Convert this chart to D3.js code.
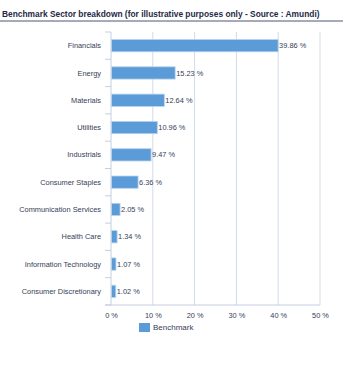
<!DOCTYPE html>
<html>
<head>
<meta charset="utf-8">
<script src="https://cdn.jsdelivr.net/npm/d3@7"></script>
<style>
  body { margin: 0; background: #fff; }
  text { font-family: "Liberation Sans", Arial, sans-serif; }
</style>
</head>
<body>
<div class="bar-chart"></div>
<script>
'use strict'

// Data.
const sectors = ['Financials', 'Energy', 'Materials', 'Utilities', 'Industrials',
    'Consumer Staples', 'Communication Services', 'Health Care',
    'Information Technology', 'Consumer Discretionary'];
const weights = [39.86, 15.23, 12.64, 10.96, 9.47, 6.36, 2.05, 1.34, 1.07, 1.02];
const xTicks = [0, 10, 20, 30, 40, 50];
const seriesName = 'Benchmark';
const title = 'Benchmark Sector breakdown (for illustrative purposes only - Source : Amundi)';

const data = sectors.map((s, i) => ({sector: s, value: weights[i]}));

// Dimensions
let width = 353,
    height = 368,
    margin = {top: 32, right: 33, bottom: 63, left: 111},
    barColor = '#5a9bd8',
    gridColor = '#d3dbe9',
    textColor = '#354057';

let svg = d3.select('.bar-chart')
    .append('svg')
    .attr('width', width)
    .attr('height', height);

// Title + rule under it
svg.append('text')
    .attr('x', 2)
    .attr('y', 17)
    .attr('font-size', 8.4)
    .attr('font-weight', 'bold')
    .attr('fill', '#1f2a44')
    .text(title);

svg.append('line')
    .attr('x1', 0).attr('x2', 343)
    .attr('y1', 21).attr('y2', 21)
    .attr('stroke', '#4a5670')
    .attr('stroke-width', 1);

// Scales
let x = d3.scaleLinear()
    .domain([0, 50])
    .range([margin.left, width - margin.right]);

let y = d3.scaleBand()
    .domain(sectors)
    .range([margin.top, height - margin.bottom])
    .paddingInner(0.55)
    .paddingOuter(0.275);

// Vertical grid
svg.append('g')
    .attr('class', 'grid')
    .selectAll('line')
    .data(xTicks.slice(1))
    .join('line')
    .attr('x1', d => x(d)).attr('x2', d => x(d))
    .attr('y1', margin.top).attr('y2', height - margin.bottom)
    .attr('stroke', gridColor)
    .attr('stroke-width', 1);

// X axis (labels only, line drawn below)
let xAxis = d3.axisBottom(x)
    .tickValues(xTicks)
    .tickSize(0)
    .tickPadding(8)
    .tickFormat(d => d + ' %');

svg.append('g')
    .attr('class', 'xAxis')
    .attr('transform', `translate(0, ${height - margin.bottom})`)
    .call(xAxis)
    .call(g => g.select('.domain').remove())
    .selectAll('text')
    .attr('font-size', 7.4)
    .attr('fill', textColor)
    .style('font-family', '"Liberation Sans", Arial, sans-serif');

// Bottom axis line
svg.append('line')
    .attr('x1', x(0) - 6).attr('x2', x(50))
    .attr('y1', height - margin.bottom).attr('y2', height - margin.bottom)
    .attr('stroke', '#c5cee0');

// Y axis: line + small ticks at band boundaries
let step = y.step();
let boundaries = d3.range(sectors.length + 1).map(i => margin.top + i * step);

svg.append('line')
    .attr('x1', x(0)).attr('x2', x(0))
    .attr('y1', margin.top).attr('y2', height - margin.bottom)
    .attr('stroke', '#c5cee0');

svg.append('g')
    .selectAll('line')
    .data(boundaries)
    .join('line')
    .attr('x1', x(0) - 6).attr('x2', x(0))
    .attr('y1', d => d).attr('y2', d => d)
    .attr('stroke', '#c5cee0');

// Category labels
svg.append('g')
    .selectAll('text')
    .data(data)
    .join('text')
    .attr('x', x(0) - 10)
    .attr('y', d => y(d.sector) + y.bandwidth() / 2)
    .attr('dy', '0.35em')
    .attr('text-anchor', 'end')
    .attr('font-size', 7.4)
    .attr('fill', textColor)
    .text(d => d.sector);

// Bars
svg.append('g')
    .attr('class', 'bars')
    .selectAll('rect')
    .data(data)
    .join('rect')
    .attr('x', x(0) + 0.5)
    .attr('y', d => y(d.sector))
    .attr('width', d => x(d.value) - x(0))
    .attr('height', y.bandwidth())
    .attr('fill', barColor)
    .attr('stroke', '#b9d4f0')
    .attr('stroke-width', 0.8);

// Value labels
svg.append('g')
    .selectAll('text')
    .data(data)
    .join('text')
    .attr('x', d => x(d.value) + 1.5)
    .attr('y', d => y(d.sector) + y.bandwidth() / 2)
    .attr('dy', '0.35em')
    .attr('font-size', 7.4)
    .attr('fill', textColor)
    .text(d => d.value.toFixed(2) + ' %');

// Legend
let legend = svg.append('g')
    .attr('transform', 'translate(139, 323)');

legend.append('rect')
    .attr('width', 11)
    .attr('height', 9)
    .attr('fill', barColor);

legend.append('text')
    .attr('x', 14)
    .attr('y', 4.5)
    .attr('dy', '0.35em')
    .attr('font-size', 8)
    .attr('fill', textColor)
    .text(seriesName);
</script>
</body>
</html>
